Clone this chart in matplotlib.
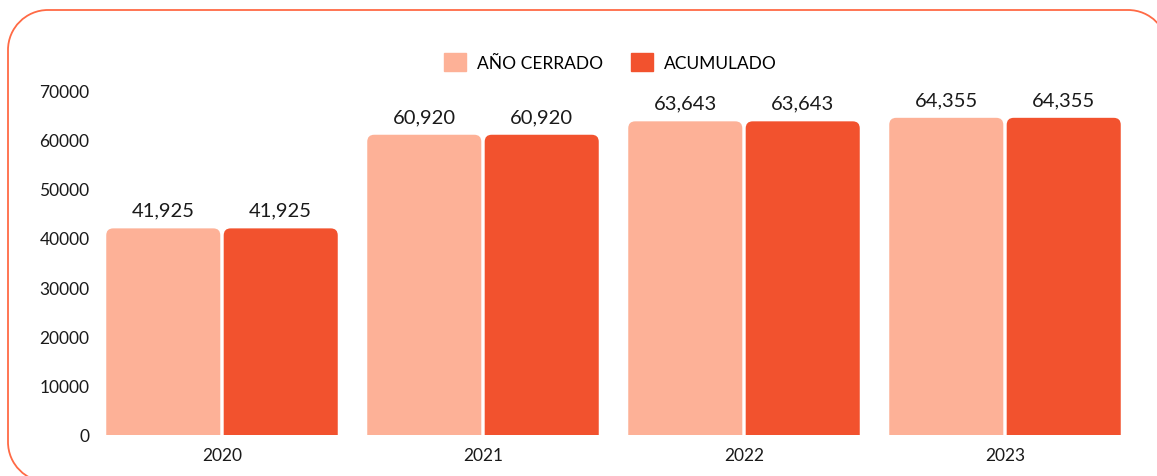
import matplotlib.pyplot as plt
from matplotlib.patches import FancyBboxPatch
from matplotlib.path import Path
from matplotlib.patches import PathPatch
import numpy as np

years = ["2020", "2021", "2022", "2023"]
ano_cerrado = [41925, 60920, 63643, 64355]
acumulado = [41925, 60920, 63643, 64355]
series_names = ["AÑO CERRADO", "ACUMULADO"]
colors = ["#FDB197", "#F2522E"]

plt.rcParams['font.family'] = ['Lato', 'DejaVu Sans']

W, H = 1157, 477
fig = plt.figure(figsize=(W / 100, H / 100), dpi=100)
ax = fig.add_axes([91.5 / W, (H - 436) / H, 1044 / W, 345 / H])

x = np.arange(len(years))
bw = 0.437
gap = 0.013

bars = []
for i, (vals, name, c) in enumerate(zip([ano_cerrado, acumulado], series_names, colors)):
    off = (i - 0.5) * (bw + gap)
    b = ax.bar(x + off, vals, bw, color=c, label=name)
    bars.append(b)

ax.set_xlim(-0.5, 3.5)
ax.set_ylim(0, 70000)

# swap rectangles for ones with rounded tops
px_x = 1.0 / 261
px_y = 70000 / 345
r = 7 * px_x
for b in bars:
    for rect in b:
        rect.set_visible(False)
        x0 = rect.get_x()
        w = rect.get_width()
        h = rect.get_height()
        p = FancyBboxPatch((x0, -3000), w, h + 3000,
                           boxstyle="round,pad=0,rounding_size=%f" % r,
                           mutation_aspect=px_y / px_x,
                           facecolor=rect.get_facecolor(), edgecolor="none")
        ax.add_patch(p)
        ax.annotate("{:,}".format(int(h)), (x0 + w / 2, h),
                    xytext=(0, 7), textcoords="offset points",
                    ha="center", va="bottom", fontsize=14.5, color="#1a1a1a")

ax.set_xticks(x)
ax.set_xticklabels(years)
ax.set_yticks(range(0, 70001, 10000))
ax.tick_params(axis="both", length=0, labelsize=12.5, colors="#1a1a1a")
ax.tick_params(axis="y", pad=1.5)
ax.tick_params(axis="x", pad=9)
for s in ax.spines.values():
    s.set_visible(False)

handles = [plt.Rectangle((0, 0), 1, 1, color=c) for c in colors]
fig.legend(handles, series_names, loc="center", bbox_to_anchor=(610 / W, 1 - 63 / H),
           ncol=2, frameon=False, fontsize=12.5, handlelength=1.3, handleheight=1.3,
           handletextpad=0.6, columnspacing=1.6)

# rounded orange frame around the card, built as a path in pixel coords
# (y measured from the top of the picture, flipped below)
R = 40
left, right, top, bottom = 8, 1168, 11, 483
k = 0.5523 * R
pts = [
    (right, top + R),
    (right, top + R - k), (right - R + k, top), (right - R, top),
    (left + R, top),
    (left + R - k, top), (left, top + R - k), (left, top + R),
    (left, bottom - R),
    (left, bottom - R + k), (left + R - k, bottom), (left + R, bottom),
]
codes = [Path.MOVETO, Path.CURVE4, Path.CURVE4, Path.CURVE4, Path.LINETO,
         Path.CURVE4, Path.CURVE4, Path.CURVE4, Path.LINETO,
         Path.CURVE4, Path.CURVE4, Path.CURVE4]
pts = [(px / W, 1 - py / H) for px, py in pts]
frame = PathPatch(Path(pts, codes), transform=fig.transFigure, facecolor="none",
                  edgecolor="#FF6A45", linewidth=1.3, clip_on=False)
fig.patches.append(frame)

fig.savefig("out.png", dpi=100)
